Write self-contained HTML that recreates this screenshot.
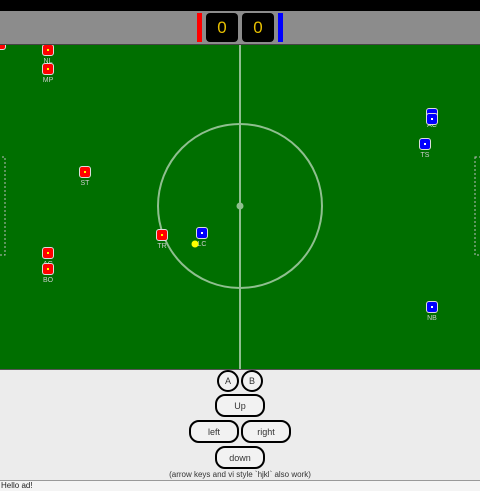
<!DOCTYPE html>
<html><head><meta charset="utf-8"><style>
body{margin:0;width:480px;height:490px;overflow:hidden;background:#ececec;font-family:"Liberation Sans",sans-serif;position:relative}
.abs{position:absolute}
.btn{position:absolute;border:2px solid #000;border-radius:10px;background:#f2f2f2;font-size:9px;color:#333;display:flex;align-items:center;justify-content:center;box-sizing:border-box}
.circ{border-radius:50%}
</style></head><body>
<div class="abs" style="left:0;top:0;width:480px;height:11px;background:#000"></div>
<div class="abs" style="left:0;top:11px;width:480px;height:33px;background:#8c8c8c;border-bottom:1px solid #444"></div>
<div class="abs" style="left:197px;top:13px;width:5px;height:29px;background:#f00"></div>
<div class="abs" style="left:206px;top:13px;width:32px;height:29px;background:#000;border-radius:4px;color:#e8c000;font-size:17px;text-align:center;line-height:29px">0</div>
<div class="abs" style="left:242px;top:13px;width:32px;height:29px;background:#000;border-radius:4px;color:#e8c000;font-size:17px;text-align:center;line-height:29px">0</div>
<div class="abs" style="left:278px;top:13px;width:5px;height:29px;background:#00f"></div>
<svg class="abs" style="left:0;top:45px" width="480" height="324">
<rect width="480" height="324" fill="#006f00"/>
<line x1="240" y1="0" x2="240" y2="324" stroke="#8fbf8f" stroke-width="2"/>
<circle cx="240" cy="161" r="82" fill="none" stroke="#8fbf8f" stroke-width="2"/>
<circle cx="240" cy="161" r="3.5" fill="#8fbf8f"/>
<rect x="-2" y="112" width="7" height="98" fill="none" stroke="#bbb" stroke-dasharray="2,2"/>
<rect x="475" y="112" width="7" height="98" fill="none" stroke="#bbb" stroke-dasharray="2,2"/>
<g id="players"></g>
<circle cx="195" cy="199" r="3.5" fill="#ff0"/>
</svg>
<script>
const names=["NL","MP","ST","AG","BO","TR","AC","AC2","TS","LC","NB","GK"];
const xs=[48,48,85,48,48,162,432,432,425,202,432,0];
const ys=[5,24,127,208,224,190,69,74,99,188,262,-1];
const teams=["r","r","r","r","r","r","b","b","b","b","b","r"];
const g=document.getElementById('players');
const ns="http://www.w3.org/2000/svg";
for(let i=0;i<names.length;i++){
 const grp=document.createElementNS(ns,'g');
 
 
 const r=document.createElementNS(ns,'rect');
 r.setAttribute('x',xs[i]-5.5);r.setAttribute('y',ys[i]-5.5);r.setAttribute('width',11);r.setAttribute('height',11);r.setAttribute('rx',2.5);
 r.setAttribute('fill',teams[i]=="r"?"#f00":"#00f");r.setAttribute('stroke','#ddd');r.setAttribute('stroke-width','1');
 grp.appendChild(r);
 const d=document.createElementNS(ns,'rect');
 d.setAttribute('x',xs[i]-1);d.setAttribute('y',ys[i]-1);d.setAttribute('width',2);d.setAttribute('height',2);d.setAttribute('fill',teams[i]=="r"?"#ff0":"#fff");
 grp.appendChild(d);
 if(names[i]!="AC2"&&names[i]!="GK"){
 const t=document.createElementNS(ns,'text');
 t.setAttribute('x',xs[i]);t.setAttribute('y',ys[i]+13);t.setAttribute('text-anchor','middle');t.setAttribute('font-size','7');t.setAttribute('fill','#ccc');t.setAttribute('font-family','Liberation Sans');
 t.textContent=names[i];grp.appendChild(t);}
 g.appendChild(grp);
}
</script>
<div class="abs" style="left:0;top:369px;width:480px;height:1px;background:#555"></div>
<div class="btn circ" style="left:217px;top:370px;width:22px;height:22px">A</div>
<div class="btn circ" style="left:241px;top:370px;width:22px;height:22px">B</div>
<div class="btn" style="left:215px;top:394px;width:50px;height:23px">Up</div>
<div class="btn" style="left:189px;top:420px;width:50px;height:23px">left</div>
<div class="btn" style="left:241px;top:420px;width:50px;height:23px">right</div>
<div class="btn" style="left:215px;top:446px;width:50px;height:23px">down</div>
<div class="abs" style="left:0;top:470px;width:480px;text-align:center;font-size:8px;color:#333">(arrow keys and vi style `hjkl` also work)</div>
<div class="abs" style="left:0;top:480px;width:480px;height:10px;border-top:1px solid #999;background:#f4f4f4;font-size:8px;color:#222;line-height:10px;padding-left:1px">Hello ad!</div>
</body></html>
